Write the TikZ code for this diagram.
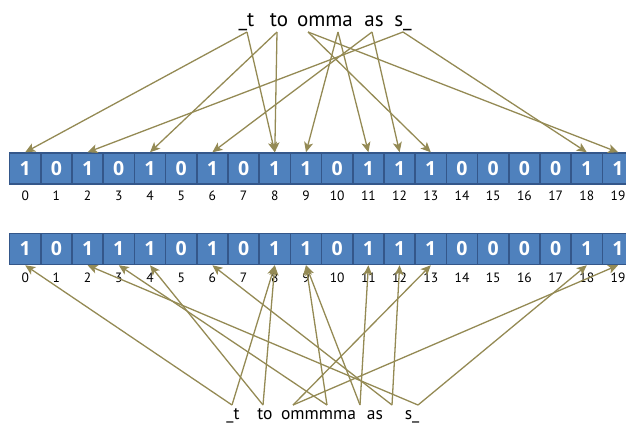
\documentclass[tikz,border=0pt]{standalone}
\usepackage{fontspec}
\setmainfont{PT Sans}
\newfontfamily\bitfont{Open Sans}
\usetikzlibrary{arrows.meta}
\definecolor{cellfill}{HTML}{4F81BD}
\definecolor{celledge}{HTML}{34578A}
\definecolor{olive}{HTML}{948A54}
\begin{document}
\begin{tikzpicture}[x=1pt,y=-1pt,
  bit/.style={draw=celledge, line width=1.5pt, fill=cellfill,
    minimum width=31.2pt, minimum height=31pt, inner sep=0pt,
    text=white, font=\bitfont\bfseries\fontsize{19.5}{19.5}\selectfont},
  idx/.style={inner sep=0pt, font=\fontsize{13.5}{13.5}\selectfont},
  word/.style={inner sep=0pt, anchor=base},
  topword/.style={word, font=\fontsize{21}{21}\selectfont},
  lowword/.style={word, font=\fontsize{17.5}{17.5}\selectfont},
  link/.style={draw=olive, line width=1.3pt,
    -{Stealth[length=10pt,width=9pt,inset=2.5pt]}}]
\useasboundingbox (0,0) rectangle (626,423);
\clip (0,0) rectangle (626,423);

% upper bit array with its indices
\foreach \b [count=\i from 0] in {1,0,1,0,1,0,1,0,1,1,0,1,1,1,0,0,0,0,1,1}{
  \node[bit] (t\i) at (25.2+31.2*\i,168.5) {\b};
  \node[idx] (tl\i) at (25.2+31.2*\i,196) {\i};
}
% lower bit array with its indices
\foreach \b [count=\i from 0] in {1,0,1,1,1,0,1,0,1,1,0,1,1,1,0,0,0,0,1,1}{
  \node[bit] (b\i) at (25.2+31.2*\i,249) {\b};
  \node[idx] (bl\i) at (25.2+31.2*\i,278) {\i};
}

% upper text and the points its arrows leave from
\node[topword] (wt1) at (246.5,27) {\_t};
\node[topword] (wt2) at (279,27) {to};
\node[topword] (wt3) at (325,27) {omma};
\node[topword] (wt4) at (374,27) {as};
\node[topword] (wt5) at (403,27) {s\_};
\coordinate (pt1) at (247,32);
\coordinate (pt2) at (277,32);
\coordinate (pt3) at (308,32);
\coordinate (pt4) at (338,32);
\coordinate (pt5) at (372,32);
\coordinate (pt6) at (403,32);

% lower text and the points its arrows leave from
\node[lowword] (wb1) at (233,419) {\_t};
\node[lowword] (wb2) at (265,419) {to};
\node[lowword] (wb3) at (318.5,419) {ommmma};
\node[lowword] (wb4) at (375,419) {as};
\node[lowword] (wb5) at (412,419) {s\_};
\coordinate (pb1) at (232,405);
\coordinate (pb2) at (263,405);
\coordinate (pb3) at (293,405);
\coordinate (pb4) at (327,405);
\coordinate (pb5) at (360,405);
\coordinate (pb6) at (392,405);
\coordinate (pb7) at (418,405);

% hashed positions
\foreach \s/\d in {1/0,1/8,2/4,2/8,3/13,3/19,4/9,4/11,5/6,5/12,6/2,6/18}
  \draw[link] (pt\s) -- (t\d.north);
\foreach \s/\d in {1/0,1/8,2/4,2/8,3/13,3/19,4/3,4/9,5/9,5/11,6/6,6/12,7/2,7/18}
  \draw[link] (pb\s) -- (b\d.south);
\end{tikzpicture}
\end{document}
